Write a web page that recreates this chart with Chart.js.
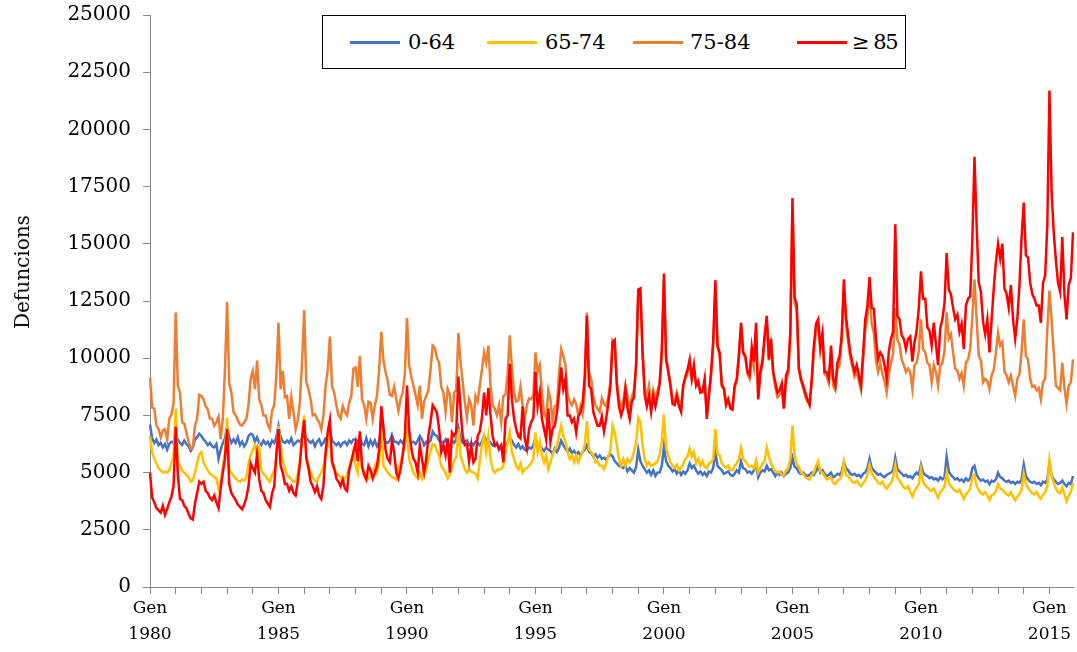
<!DOCTYPE html>
<html><head><meta charset="utf-8">
<script src="https://cdn.jsdelivr.net/npm/chart.js@4/dist/chart.umd.min.js"></script>
<style>
html,body{margin:0;padding:0;background:#fff;overflow:hidden}
#wrap{position:relative;width:1077px;height:652px;font-family:'DejaVu Serif',serif}
canvas{position:absolute;left:0;top:0}
#legend{position:absolute;left:322px;top:15px;width:584px;height:54px;border:1px solid #000;background:#fff;box-sizing:border-box}
.ln{position:absolute;height:3px}
.tx{position:absolute;font-size:21px;line-height:24px;color:#000;white-space:nowrap}
#ytitle{position:absolute;left:22px;top:272px;transform:translate(-50%,-50%) rotate(-90deg);font-size:20px;color:#000;white-space:nowrap}
</style></head><body>
<div id="wrap"><canvas id="c" width="1077" height="652"></canvas>
<div id="ytitle">Defuncions</div>
<div id="legend"></div>
</div>
<script>
const startYear = 1980, endYear = 2015;
const monthNames = ['Gen','Feb','Mar','Abr','Mai','Jun','Jul','Ago','Set','Oct','Nov','Des'];
const seriesNames = ['0-64','65-74','75-84','\u2265 85'];
const seriesColors = ['#4472C4','#FFC000','#ED7D31','#FF0000'];
const yTicks = [0,2500,5000,7500,10000,12500,15000,17500,20000,22500,25000];

const age0_64 = [
7100,6500,6300,6450,6200,6300,6100,6250,6000,6250,6350,6300,
6700,6450,6300,6200,6400,6250,6150,5950,6100,6450,6550,6700,
6600,6450,6350,6200,6300,6150,6100,6250,5600,6000,6300,6500,
7000,6550,6300,6450,6300,6550,6200,6350,6150,6300,6600,6700,
6650,6350,6550,6300,6200,6400,6250,6350,6150,6400,6300,6550,
7050,6550,6350,6300,6400,6300,6500,6200,6300,6400,6350,6500,
6800,6500,6400,6300,6400,6150,6350,6450,6200,6300,6500,6500,
6850,6400,6300,6200,6300,6150,6300,6350,6200,6400,6300,6450,
6450,6300,6600,6250,6200,6500,6150,6400,6200,6400,6150,6350,
7000,6500,6350,6300,6400,6650,6350,6350,6250,6400,6300,6450,
6850,6500,6300,6350,6250,6400,6600,6450,6200,6350,6300,6400,
6800,6650,6600,6400,6350,6300,6450,6250,6150,6400,6300,6450,
6950,6500,6300,6350,6400,6200,6300,6200,6350,6300,6200,6350,
6600,6400,6450,6300,6200,6150,6300,6000,6150,6100,6250,6300,
6500,6400,6200,6100,6250,6050,6150,6000,5950,6100,6050,6200,
6500,6150,6200,6050,5950,6100,6000,5950,5800,6050,5900,6100,
6400,6200,6050,5900,6050,5850,5950,5800,5900,5750,5900,6000,
6200,5900,5850,5700,5800,5650,5750,5600,5650,5550,5700,5800,
5700,5500,5400,5300,5250,5200,5300,5050,5200,5100,5000,5250,
6000,5500,5300,5150,5000,5100,4900,5100,4850,5000,5000,5300,
6150,5500,5300,5200,5050,5150,4950,5100,4900,5050,4950,5100,
5400,5200,5300,5100,4950,5050,4900,5000,4850,5050,5000,5200,
5900,5300,5200,5100,4950,5000,5050,4900,4850,4950,5100,5000,
5500,5200,5150,5000,5050,4950,5100,5450,4800,5000,5100,5050,
5300,5100,5150,5000,4850,5000,4900,5000,4850,4950,5000,5200,
5650,5250,5200,5000,4950,5000,4900,4850,4900,5000,4900,5050,
5300,5000,5100,4950,4850,4900,5000,4800,4850,4950,4900,5050,
5450,5200,5100,4950,4900,4950,4850,4900,4800,4950,5000,5200,
5600,5200,5100,5000,4900,4950,4850,4800,4900,4950,5000,5100,
5650,5150,5050,4950,4850,4900,4800,4850,4750,4900,5000,4900,
5350,5000,4900,4850,4750,4800,4700,4750,4650,4800,4700,4800,
5700,5050,4900,4800,4700,4750,4650,4700,4600,4750,4650,4750,
5200,5300,4900,4750,4650,4700,4600,4650,4500,4650,4600,4700,
5000,4800,4750,4650,4600,4650,4550,4600,4500,4600,4550,4700,
5350,4850,4700,4600,4550,4600,4500,4550,4450,4600,4550,4700,
5400,4900,4700,4600,4500,4550,4650,4500,4400,4550,4500,4850
];

const age65_74 = [
6600,5900,5600,5400,5200,5100,5000,5050,5000,5100,5400,5700,
7800,5500,5300,5100,5000,4900,4800,4600,4650,5000,5400,5800,
5900,5450,5250,5100,4950,4900,4800,4750,4300,4700,5200,5900,
7400,5150,5000,4850,4750,4650,4600,4700,4650,4800,5400,5750,
6000,6200,5750,6100,5100,4950,4850,4700,4600,4900,5100,5600,
7050,6150,5500,5200,4900,4800,4700,4600,4600,4950,5500,6600,
7500,5750,5300,5000,4800,4650,4600,4850,5000,5300,5750,6200,
6800,5300,5150,5000,4900,4800,4600,4750,4900,5200,5500,5900,
5300,5000,6600,5200,5000,4900,4750,4800,4900,5300,5000,5500,
6900,5300,5150,5000,4900,4800,4750,4700,5150,5450,5800,6200,
6900,5600,5300,5000,4850,4750,5000,4750,5300,5100,5600,5900,
6250,6200,5950,5750,5300,5150,5000,4750,4900,5200,5500,5700,
6900,5750,5450,5150,5000,5150,5050,5000,4950,4750,5500,6200,
6600,5900,6600,5600,5150,5000,5100,5150,5150,5300,5900,6300,
6750,5900,5600,5300,5150,5400,5000,5150,5200,5300,5400,5600,
6750,5900,6350,5750,5450,5750,5150,5450,5800,6000,6200,6600,
7050,6600,6350,5900,5600,5750,5450,5750,5450,5700,5900,6200,
7250,6000,5900,5750,5450,5500,5300,5300,5150,5400,5700,6000,
7050,6750,6200,5600,5300,5600,5300,5600,5450,5600,5900,6300,
7400,7200,6200,5600,5300,5450,5300,5350,5400,5500,5800,6400,
7550,6050,5750,5450,5300,5200,5350,5100,5200,5400,5600,5700,
6050,5700,5900,5400,5600,5300,5500,5250,5200,5400,5450,5600,
6900,5800,5750,5400,5300,5200,5300,5100,5100,5300,5400,5600,
6100,5600,5500,5350,5250,5300,5200,5500,5000,5200,5400,5500,
6100,5700,5400,5200,5050,5000,5050,4900,4900,5100,5200,5600,
7050,5750,5400,5250,5000,4950,4800,4750,4700,4900,5000,5300,
5500,5050,5000,4850,4700,4750,4800,4550,4500,4650,4700,4850,
5450,4900,4850,4700,4600,4550,4650,4500,4400,4550,4650,4900,
5350,5000,4800,4700,4550,4500,4600,4400,4300,4450,4550,4800,
5350,4800,4650,4500,4350,4300,4400,4150,3950,4200,4350,4500,
5150,4600,4450,4350,4250,4200,4300,4100,3900,4150,4250,4400,
5000,4550,4400,4300,4200,4150,4250,4050,3850,4050,4150,4300,
4800,4900,4400,4250,4100,4050,4150,4000,3800,4000,4050,4200,
4500,4300,4250,4150,4050,4000,4150,3950,3800,3950,4050,4250,
4950,4500,4350,4200,4100,4050,4150,3950,3850,4050,4150,4400,
5550,4900,4550,4300,4150,4100,4350,4050,3750,4000,4150,4550
];

const age75_84 = [
9150,7850,7800,7050,6900,6550,6850,6900,6450,7350,7550,8000,
12000,8800,8500,7200,7150,6750,6350,6050,6100,7050,7350,8400,
8350,8200,7900,7750,7350,7350,7050,7200,7450,6450,7350,9500,
12450,8900,8500,7650,7500,7300,7100,7050,7200,7350,7950,9100,
9450,8650,9900,8200,7950,7500,7500,7100,6900,7700,7950,9250,
11550,8650,9450,8300,8350,7350,8300,7650,6900,7300,8100,9800,
12100,8950,8650,8200,7500,7550,7350,7200,6900,7500,8800,9500,
10950,8750,8500,7950,7500,7350,7900,7650,7500,8050,8350,9550,
9600,8750,10100,8200,7950,7350,8100,8050,7350,7950,8350,9500,
11150,9900,9400,9000,8400,8350,8750,8200,7700,8200,8500,9300,
11750,9700,9200,8800,8400,7950,8800,7350,8100,8350,8600,9500,
10550,10450,10000,9800,8750,8500,7650,8650,8400,7200,8500,8600,
11100,9850,8950,8100,7400,8200,7950,7050,8350,8100,8800,9500,
10250,9800,10550,8800,7950,7800,7500,7950,7200,8350,8400,9300,
11000,9550,8500,8100,8150,8750,7950,7350,7950,8250,8200,8400,
10250,9400,9700,8500,7600,7350,8600,8200,7200,7900,7950,9300,
10400,10100,9700,8400,8100,7950,8200,8000,7500,7900,7550,8500,
12000,9400,9100,8300,7950,7800,7650,8250,8000,7900,8300,9000,
10800,10700,9000,8200,7900,8100,8800,8300,7800,8300,8600,9600,
12800,12800,10300,8700,8300,8800,8000,8600,8200,8600,8900,10100,
13400,10000,9500,8900,8200,8100,8500,8100,7900,8800,9100,9300,
9800,9100,9500,8900,8900,8500,8500,8900,7600,8400,9200,10500,
13200,10500,10100,8900,8700,8100,8200,7900,7900,8700,9000,10000,
11400,10200,10000,9300,9100,10100,9600,11200,8300,9300,9700,10800,
11600,9900,10600,9300,8700,8300,8400,8700,7800,9000,9300,10900,
16500,12400,12100,9500,9000,8700,8300,8100,8000,8900,10300,11200,
11400,10300,10900,9300,9200,8900,10200,8800,8600,9500,9700,10800,
13100,11500,10700,10000,9600,9200,9400,9000,8600,9900,11200,11800,
13000,11500,11100,9900,9400,9800,9300,9000,8500,9300,9800,10200,
12200,10800,10600,9950,9700,9400,9550,9400,8650,9700,9800,10300,
11700,10400,10250,9800,9700,8950,9700,9400,8800,9650,9800,10300,
12000,10850,11050,10250,9550,9450,9100,9350,8800,9800,9950,10400,
11800,13450,11700,10100,9900,8950,9100,9000,8650,9250,9500,10250,
11100,10550,10700,9400,9250,8950,9250,8800,8350,9100,9300,10300,
11700,10100,9950,9100,8750,8800,8600,8700,8200,8950,9100,11250,
12950,11700,10250,8800,8700,8600,9800,8700,8000,8800,8950,9950
];

const age85plus = [
5000,3900,3700,3450,3350,3250,3550,3150,3400,3700,3950,4400,
7000,4900,3850,3800,3550,3450,3200,3000,2950,3650,4100,4600,
4500,4600,4200,4100,3900,3800,4000,3700,3450,4300,5000,5600,
6900,4500,4100,3950,3800,3600,3500,3400,3600,3900,4400,5400,
5200,5000,5800,4700,4200,4100,3800,3650,3500,4100,4400,5800,
6900,5300,5000,4500,4500,4200,4400,4100,4000,4600,5400,6500,
7300,5600,5200,4600,4400,4150,4400,4000,3850,4450,5900,6800,
7300,5500,5200,4750,4600,4400,4700,4300,4200,5100,5500,5900,
6300,5500,6800,5300,4900,4700,5300,5100,4750,5000,5300,6000,
7900,7000,6000,5600,5450,6400,5900,5000,4750,5150,5750,6600,
8800,6900,6050,5600,5450,5000,6200,5600,5000,5600,6600,7200,
7950,7800,7600,6900,5900,6200,5750,6500,5000,6750,6600,6800,
9200,7800,6600,6200,6250,5500,6200,5450,5600,6600,6800,7400,
8500,7500,8700,7500,6600,6200,6250,6050,6200,5450,7350,7500,
9750,8200,7350,6900,6600,6500,7900,6500,6050,6900,7200,7400,
9400,7900,8500,7350,6900,6450,7800,6350,6900,7050,7600,8500,
9600,8650,9100,7500,7500,7200,7350,6750,7450,7650,8000,9200,
11850,8800,8650,7650,7350,7050,7050,7450,6800,7350,8000,8800,
10700,10800,8800,7900,7500,7800,8650,7800,7350,8100,8300,9800,
13000,13050,10250,8400,7900,8350,7650,8350,7900,8350,8900,10400,
13700,9950,9400,8800,8000,7950,8350,7900,7650,8800,9200,9500,
9950,9100,9700,8800,9000,8500,8550,9100,7350,8400,9400,10800,
13400,10550,10250,8800,8650,7950,8200,7800,7750,8800,9100,10200,
11550,10250,10100,9400,9250,10500,9850,11550,8200,9400,9900,11000,
11850,9950,10850,9400,8950,8500,8600,8900,7800,9250,9500,11150,
17000,12650,12350,9550,9100,8800,8500,8200,7950,9100,10550,11500,
11700,10500,11100,9400,9400,9100,10550,9100,8800,9800,10100,11000,
13450,11850,11000,10250,9800,9400,9700,9250,8800,10250,11700,12300,
13550,12200,12150,10850,9950,10250,10100,9700,9100,10300,10850,11150,
15850,11850,11700,11000,10850,10400,10850,10950,9850,10700,11200,12200,
13800,12600,12600,11350,11200,10550,11550,10600,9700,11300,11700,12400,
14600,13000,12800,12200,11700,11900,11150,11500,10400,12300,12600,12700,
15200,18800,15800,13300,12900,11600,11050,11700,10250,11700,13050,14200,
15000,14350,15000,13050,12800,12200,13200,11700,10850,11700,13200,15300,
16800,14500,14400,13300,12800,12600,12300,12300,11550,13300,13600,15800,
21700,17300,15500,14300,13300,12900,15300,12800,11700,13200,13500,15500
];

// categories
const categories = [];
for (let y = startYear; y <= endYear; y++) {
  for (let m = 0; m < 12; m++) categories.push(monthNames[m] + ' ' + y);
}

// HTML legend
const legendLines = [350, 487, 633, 797];
const legendTexts = [408, 545, 690, 852];
const lg = document.getElementById('legend');
seriesNames.forEach((name, i) => {
  const l = document.createElement('div');
  l.className = 'ln';
  l.style.left = (legendLines[i] - 323) + 'px';
  l.style.width = '50px';
  l.style.top = '25px';
  l.style.background = seriesColors[i];
  lg.appendChild(l);
  const t = document.createElement('div');
  t.className = 'tx';
  t.style.left = (legendTexts[i] - 323) + 'px';
  t.style.top = '14px';
  if (i === 3) t.style.letterSpacing = '-1.5px';
  t.textContent = name;
  lg.appendChild(t);
});

const allSeries = [age0_64, age65_74, age75_84, age85plus];
const orders = [3, 2, 1, 0];
const datasets = allSeries.map((d, i) => ({
  label: seriesNames[i],
  data: d,
  borderColor: seriesColors[i],
  backgroundColor: seriesColors[i],
  borderWidth: 2.5,
  pointRadius: 0,
  tension: 0,
  fill: false,
  order: orders[i]
}));

const axisColor = '#868686';
new Chart(document.getElementById('c'), {
  type: 'line',
  data: { labels: categories, datasets },
  options: {
    responsive: false,
    animation: false,
    events: [],
    layout: { padding: { top: 15, right: 4, left: 0, bottom: 0 } },
    plugins: { legend: { display: false }, tooltip: { enabled: false } },
    scales: {
      x: {
        type: 'category',
        offset: false,
        grid: {
          display: true, drawOnChartArea: false, drawTicks: true, tickLength: 7,
          color: (c) => (c.index % 12 === 0 ? axisColor : 'rgba(0,0,0,0)'), lineWidth: 1
        },
        border: { display: true, color: axisColor, width: 1 },
        ticks: {
          autoSkip: false, maxRotation: 0, minRotation: 0, padding: 2, color: '#000',
          font: { family: 'DejaVu Serif', size: 17, lineHeight: 1.5 },
          callback: (v, i) => (i % 60 === 0 ? [monthNames[0], String(startYear + i / 12)] : '')
        },
        afterFit: (s) => { s.height = 65; s.paddingLeft = 0; s.paddingRight = 0; }
      },
      y: {
        min: 0, max: 25000,
        afterBuildTicks: (s) => { s.ticks = yTicks.map(v => ({ value: v })); },
        grid: { display: true, drawOnChartArea: false, tickLength: 7, color: axisColor },
        border: { display: true, color: axisColor, width: 1 },
        ticks: {
          padding: 12, color: '#000',
          font: { family: 'DejaVu Serif', size: 20 },
          callback: (v) => String(v)
        },
        afterFit: (s) => { s.width = 150; s.paddingTop = 0; s.paddingBottom = 0; }
      }
    }
  }
});
</script>
</body></html>
